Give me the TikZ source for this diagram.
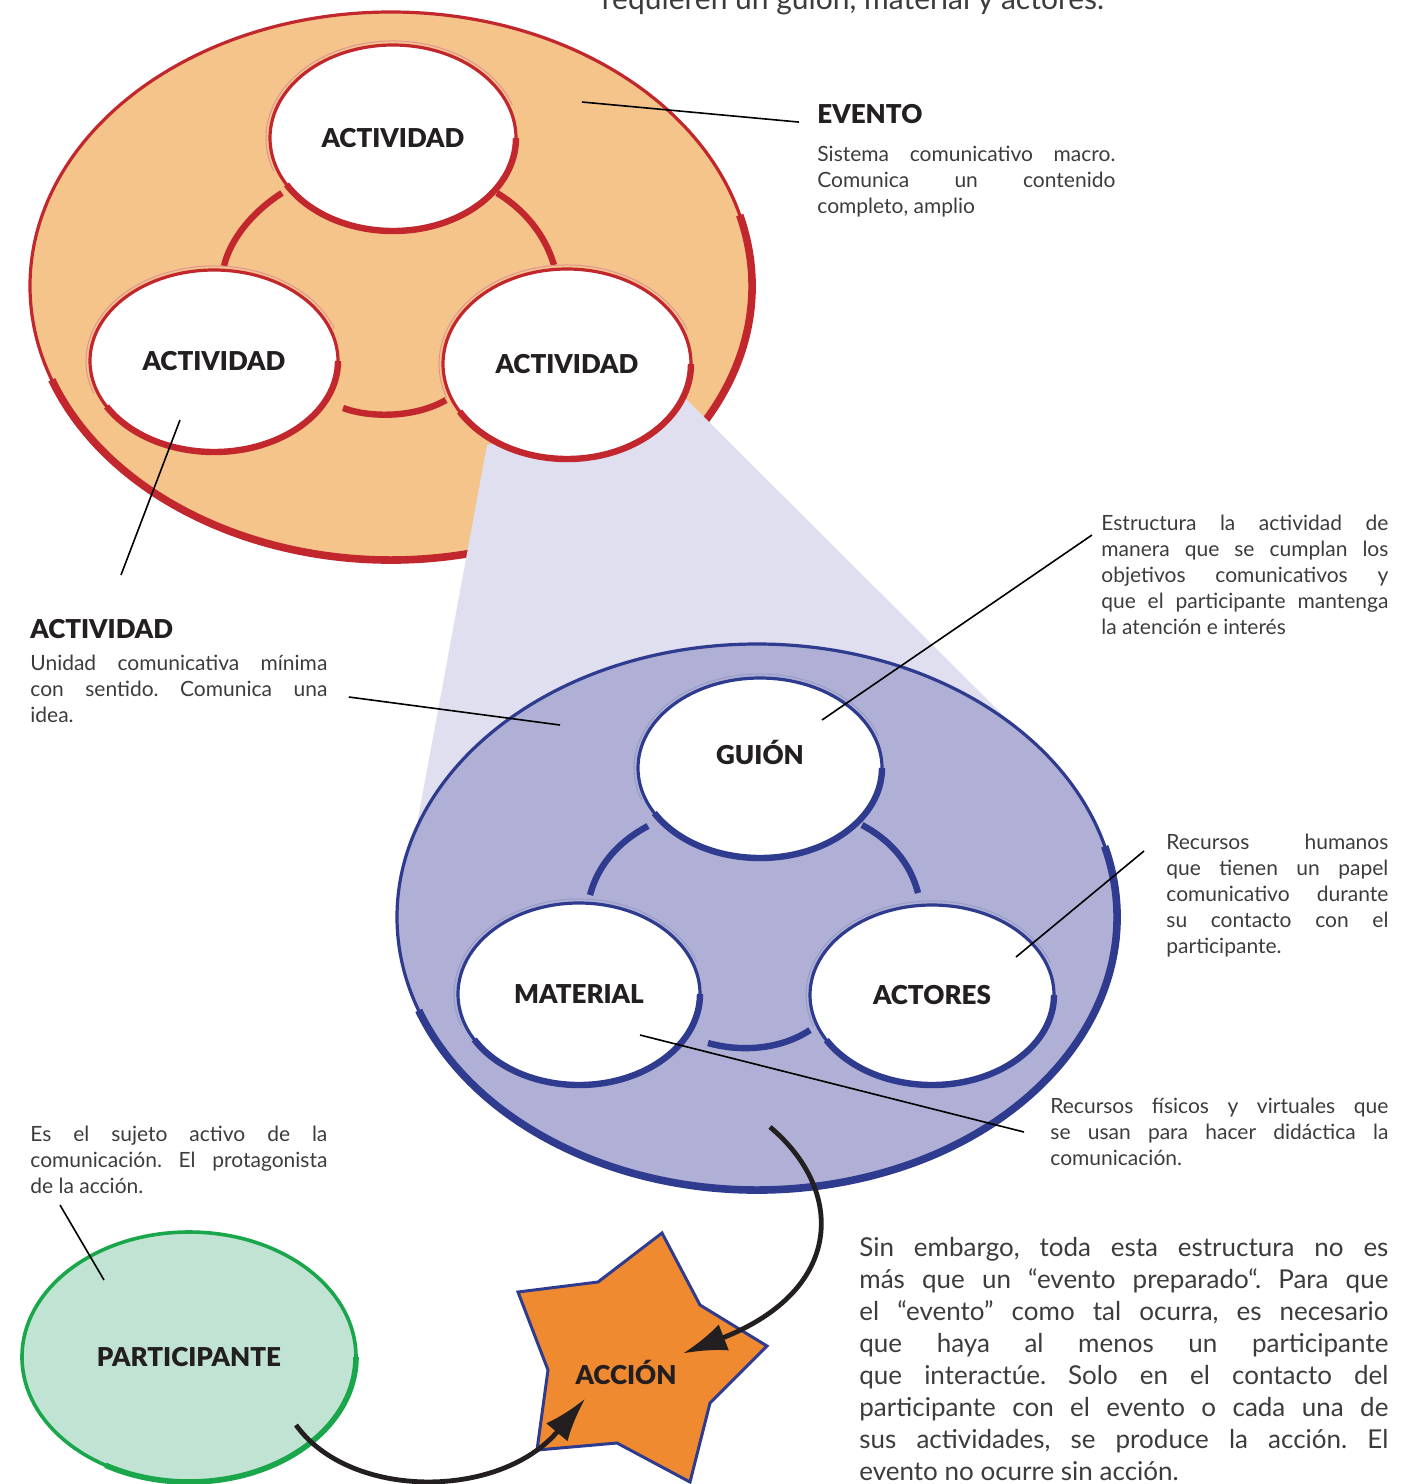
\documentclass[tikz,border=0pt]{standalone}
\usepackage{fontspec}
\setmainfont{Lato}[BoldFont={Lato Black}]
\usetikzlibrary{shapes.geometric,arrows.meta}
\setlength{\parindent}{0pt}
\frenchspacing
\definecolor{evfill}{HTML}{F4C48A}
\definecolor{evred}{HTML}{C1272D}
\definecolor{zoomfill}{HTML}{DFDFF0}
\definecolor{acfill}{HTML}{B0AFD6}
\definecolor{acblue}{HTML}{2E3B8E}
\definecolor{pafill}{HTML}{C1E3D3}
\definecolor{pagreen}{HTML}{1AA64B}
\definecolor{starfill}{HTML}{F08A30}
\definecolor{ink}{HTML}{231F20}
\definecolor{grayink}{HTML}{3C3C3C}
\tikzset{
  blob/.style={ellipse, inner sep=0pt, font=\bfseries\fontsize{13}{15}\selectfont, text=ink},
  redring/.style={blob, draw=evred, line width=1.6pt, fill=white},
  bluering/.style={blob, draw=acblue, line width=1.6pt, fill=white},
  redrim/.style={evred, line width=3.2pt},
  bluerim/.style={acblue, line width=3.2pt},
  note/.style={anchor=north west, inner sep=0pt, align=justify, text=grayink, font=\fontsize{10.5}{13}\selectfont},
  notehead/.style={anchor=north west, inner sep=0pt, text=ink, font=\bfseries\fontsize{13}{15}\selectfont},
  leader/.style={black, line width=0.8pt},
  flow/.style={ink, line width=2.4pt, -{Latex[length=22pt,width=14pt]}},
}
\begin{document}
\begin{tikzpicture}[x=0.5pt,y=0.5pt]
    \useasboundingbox (0,0) rectangle (1414,-1484);
    \node[anchor=base, font=\fontsize{15}{18}\selectfont, text=grayink] (intro) at (853,-9) {requieren un guión, material y actores.};

    % evento
    \node[ellipse, minimum width=361pt, minimum height=274pt, fill=evfill, draw=evred, line width=1.6pt] (evento) at (391,-286) {};
    \draw[redrim, line width=3.8pt] (evento.center) ++(15:180.5pt and 137pt) arc[start angle=15, end angle=-160, x radius=180.5pt, y radius=137pt];
    \draw[redrim] (224,-266) .. controls (230,-240) and (252,-212) .. (282,-193);
    \draw[redrim] (497,-193) .. controls (525,-210) and (545,-235) .. (554,-265);
    \draw[redrim] (343,-408) .. controls (370,-418) and (415,-418) .. (446,-400);
    \fill[zoomfill] (487,-445) -- (403,-900) -- (757,-917) -- (1068,-780) -- (685,-398) -- cycle;
    \node[redring, minimum width=123pt, minimum height=93pt] (actA) at (393,-138) {ACTIVIDAD};
    \node[redring, minimum width=124pt, minimum height=91pt] (actB) at (214,-361) {ACTIVIDAD};
    \node[redring, minimum width=124pt, minimum height=95pt] (actC) at (567,-364) {ACTIVIDAD};
    \foreach \n/\a/\b in {actA/61.5/46.5, actB/62/45.5, actC/62/47.5}
        {\draw[redrim] (\n.center) ++(0:\a pt and \b pt) arc[start angle=0, end angle=-150, x radius=\a pt, y radius=\b pt];
        \draw[evred!50, line width=0.5pt] (\n.center) ++(20:\a pt+2pt and \b pt+2pt) arc[start angle=20, end angle=200, x radius=\a pt+2pt, y radius=\b pt+2pt];}

    % escena de la actividad
    \node[ellipse, minimum width=360pt, minimum height=273pt, fill=acfill, draw=acblue, line width=1.6pt] (escena) at (757,-917) {};
    \draw[bluerim, line width=3.8pt] (escena.center) ++(15:180pt and 136.5pt) arc[start angle=15, end angle=-160, x radius=180pt, y radius=136.5pt];
    \draw[bluerim] (590,-895) .. controls (598,-865) and (618,-842) .. (648,-826);
    \draw[bluerim] (862,-825) .. controls (890,-840) and (910,-862) .. (918,-893);
    \draw[bluerim] (708,-1043) .. controls (740,-1052) and (780,-1050) .. (810,-1030);
    \node[bluering, minimum width=122pt, minimum height=90pt] (guion) at (760,-768) {\raisebox{2pt}[0pt][0pt]{GUIÓN}};
    \node[bluering, minimum width=121pt, minimum height=91pt] (material) at (579,-994) {MATERIAL};
    \node[bluering, minimum width=122pt, minimum height=90pt] (actores) at (932,-995) {ACTORES};
    \foreach \n/\a/\b in {guion/61/45, material/60.5/45.5, actores/61/45}
        {\draw[bluerim] (\n.center) ++(0:\a pt and \b pt) arc[start angle=0, end angle=-150, x radius=\a pt, y radius=\b pt];
        \draw[acblue!50, line width=0.5pt] (\n.center) ++(20:\a pt+2pt and \b pt+2pt) arc[start angle=20, end angle=200, x radius=\a pt+2pt, y radius=\b pt+2pt];}

    % participante y accion
    \node[blob, minimum width=167pt, minimum height=125pt, fill=pafill, draw=pagreen, line width=1.8pt] (participante) at (189,-1357) {PARTICIPANTE};
    \draw[pagreen, line width=2.8pt] (participante.center) ++(0:83.5pt and 62.5pt) arc[start angle=0, end angle=-120, x radius=83.5pt, y radius=62.5pt];
    \filldraw[fill=starfill, draw=acblue, line width=1.5pt, line join=miter] (662,-1233) -- (700,-1305) -- (767,-1346) -- (710,-1403) -- (690,-1482)
        -- (617,-1443) -- (537,-1450) -- (548,-1370) -- (518,-1292) -- (598,-1282) -- cycle;
    \node[blob, inner sep=3pt] (accion) at (626,-1372) {ACCIÓN};

    % textos
    \node[notehead] (evhead) at (817,-104) {EVENTO};
    \node[note, text width=149pt] (evtext) at (817,-146) {Sistema comunicativo macro.\linebreak Comunica un contenido\linebreak completo, amplio};
    \node[note, text width=143.5pt] (guiontext) at (1101,-515) {Estructura la actividad de\linebreak manera que se cumplan los\linebreak objetivos comunicativos y\linebreak que el participante mantenga\linebreak la atención e interés};
    \node[notehead] (acthead) at (30,-619) {ACTIVIDAD};
    \node[note, text width=148.5pt] (acttext) at (30,-655) {Unidad comunicativa mínima\linebreak con sentido. Comunica una\linebreak idea.};
    \node[note, text width=111pt] (humtext) at (1166,-834) {Recursos humanos\linebreak que tienen un papel\linebreak comunicativo durante\linebreak su contacto con el\linebreak participante.};
    \node[note, text width=169pt] (fistext) at (1050,-1098) {Recursos físicos y virtuales que\linebreak se usan para hacer didáctica la\linebreak comunicación.};
    \node[note, text width=148.5pt] (sujtext) at (30,-1126) {Es el sujeto activo de la\linebreak comunicación. El protagonista\linebreak de la acción.};
    \node[note, text width=264.5pt, font=\fontsize{13}{16}\selectfont] (cierre) at (859,-1237) {Sin embargo, toda esta estructura no es\linebreak
        más que un “evento preparado“. Para que\linebreak
        el “evento” como tal ocurra, es necesario\linebreak
        que haya al menos un participante\linebreak
        que interactúe. Solo en el contacto del\linebreak
        participante con el evento o cada una de\linebreak
        sus actividades, se produce la acción. El\linebreak
        evento no ocurre sin acción.};

    % lineas guia
    \coordinate (evpt) at (582,-102);
    \coordinate (guionpt) at (822,-720);
    \coordinate (actpt) at (180,-420);
    \coordinate (escpt) at (560,-725);
    \coordinate (actorpt) at (1016,-957);
    \coordinate (matpt) at (640,-1035);
    \coordinate (partpt) at (104,-1280);
    \draw[leader] (evpt) -- ([xshift=-9pt,yshift=-4pt]evhead.west);
    \draw[leader] (guionpt) -- ([xshift=-4.5pt,yshift=-10pt]guiontext.north west);
    \draw[leader] (actpt) -- ([xshift=45.5pt,yshift=22pt]acthead.north west);
    \draw[leader] (escpt) -- ([xshift=10.5pt,yshift=-21pt]acttext.north east);
    \draw[leader] (actorpt) -- ([xshift=-11pt,yshift=-8.5pt]humtext.north west);
    \draw[leader] (matpt) -- ([xshift=-13pt,yshift=-17pt]fistext.north west);
    \draw[leader] (partpt) -- ([xshift=15pt,yshift=-39.5pt]sujtext.north west);

    % flechas
    \coordinate (escsal) at (770,-1127);
    \coordinate (partsal) at (296,-1425);
    \draw[flow] (escsal) .. controls (845,-1190) and (845,-1290) .. (accion.north east);
    \draw[flow] (partsal) .. controls (350,-1500) and (500,-1500) .. ([xshift=8pt,yshift=-4pt]accion.south west);
\end{tikzpicture}
\end{document}
